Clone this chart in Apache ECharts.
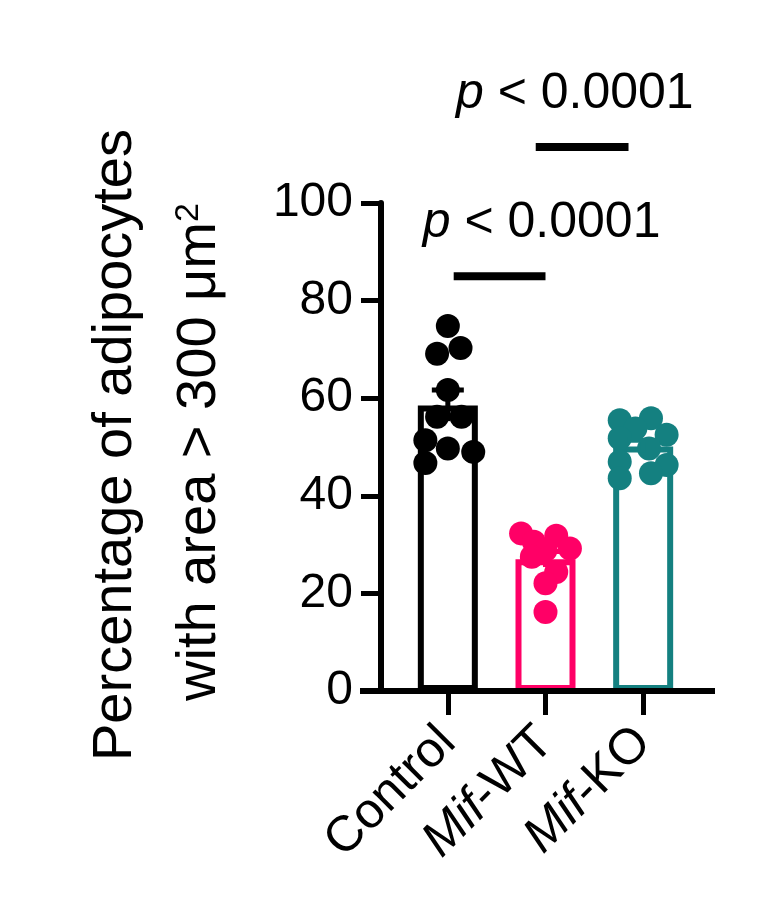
<!DOCTYPE html>
<html><head><meta charset="utf-8">
<script src="https://cdn.jsdelivr.net/npm/echarts@6/dist/echarts.min.js"></script>
<style>html,body{margin:0;padding:0;background:#fff}#c{width:772px;height:919px}</style>
</head><body><div id="c"></div>
<script>
const categories = ['Control', 'Mif-WT', 'Mif-KO'];
const colors = ['#000000', '#FF0066', '#148080'];
const means = [58.5, 27.0, 50.1];
const sems = [3.2, 1.6, 1.3];
const controlPts = [74.8, 69.1, 70.3, 61.7, 56.2, 56.2, 51.4, 49.7, 49.0, 46.7];
const controlJit = [0, -0.11, 0.13, 0, -0.11, 0.14, -0.23, 0, 0.26, -0.23];
const wtPts = [32.3, 31.8, 30.6, 29.2, 28.9, 27.5, 24.4, 22.1, 16.2];
const wtJit = [-0.25, 0.11, -0.12, 0.25, 0, -0.14, 0.11, 0, 0];
const koPts = [55.5, 55.9, 53.8, 52.5, 51.8, 49.7, 47.0, 46.3, 44.6, 43.6];
const koJit = [-0.24, 0.08, -0.08, 0.24, -0.24, 0.06, -0.24, 0.24, 0.08, -0.24];
const yTicks = [0, 20, 40, 60, 80, 100];
const comparisons = [ {from: 0.06, to: 1, y: 85, textAt: 0.96, label: 'p < 0.0001'}, {from: 0.9, to: 1.85, y: 111.5, textAt: 1.3, label: 'p < 0.0001'} ];

const ptsAll = [controlPts, wtPts, koPts], jitAll = [controlJit, wtJit, koJit];
const dotData = [];
ptsAll.forEach((arr, i) => arr.forEach((v, j) => dotData.push([i, v, jitAll[i][j]])));

const chart = echarts.init(document.getElementById('c'));
const F = 'Arial, "Liberation Sans", Helvetica, sans-serif';
chart.setOption({
  animation: false,
  grid: {left: 399, right: 80, top: 203, bottom: 919 - 691},
  xAxis: {type: 'category', data: categories, boundaryGap: true,
    axisLine: {show: false},
    axisTick: {show: true, alignWithLabel: true, length: 24, lineStyle: {color: '#000', width: 5}},
    axisLabel: {rotate: 45, margin: 44, fontSize: 50, fontFamily: F, color: '#000',
      formatter: v => v.startsWith('Mif-') ? '{i|Mif}{n|-' + v.slice(4) + '}' : '{n|' + v + '}',
      rich: {i: {fontStyle: 'italic', fontSize: 50, fontFamily: F, color: '#000'}, n: {fontSize: 50, fontFamily: F, color: '#000'}}}},
  yAxis: {type: 'value', min: 0, max: 100, interval: 20, offset: 18,
    splitLine: {show: false},
    axisLine: {show: true, lineStyle: {color: '#000', width: 6}},
    axisTick: {show: true, length: 20, lineStyle: {color: '#000', width: 5}},
    axisLabel: {fontSize: 48, fontFamily: F, color: '#000', margin: 28,
      formatter: v => yTicks.includes(v) ? String(v) : ''}},
  series: [
    {type: 'bar', barWidth: 60, z: 2,
     data: means.map((m, i) => ({value: m, itemStyle: {color: '#fff', borderColor: colors[i], borderWidth: 6}}))},
    {type: 'custom', z: 3, data: dotData, renderItem: (p, api) => {
      const i = api.value(0), v = api.value(1), jit = api.value(2);
      const c = api.coord([i, v]); const bw = api.size([1, 0])[0];
      return {type: 'circle', shape: {cx: c[0] + jit * bw, cy: c[1], r: 12}, style: {fill: colors[i]}};
    }},
    {type: 'custom', z: 4, data: means.map((m, i) => [i, m, sems[i]]), renderItem: (p, api) => {
      const i = api.value(0), m = api.value(1), s = api.value(2);
      const top = api.coord([i, m + s]), bot = api.coord([i, m - s]);
      const st = {stroke: colors[i], lineWidth: 5};
      return {type: 'group', children: [
        {type: 'line', shape: {x1: top[0], y1: top[1], x2: bot[0], y2: bot[1]}, style: st},
        {type: 'line', shape: {x1: top[0] - 16, y1: top[1], x2: top[0] + 16, y2: top[1]}, style: st}]};
    }}
  ]
});

function drawExtras() {
  const g = [];
  const y0 = chart.convertToPixel({yAxisIndex: 0}, 0);
  g.push({type: 'line', shape: {x1: 360, y1: y0, x2: 715, y2: y0}, style: {stroke: '#000', lineWidth: 6}, z: 10});
  comparisons.forEach(cmp => {
    const x1 = chart.convertToPixel({xAxisIndex: 0}, 0), x2 = chart.convertToPixel({xAxisIndex: 0}, 1);
    const bw = x2 - x1;
    const a = x1 + cmp.from * bw, b = x1 + cmp.to * bw;
    const y = chart.convertToPixel({yAxisIndex: 0}, cmp.y);
    g.push({type: 'line', shape: {x1: a, y1: y, x2: b, y2: y}, style: {stroke: '#000', lineWidth: 8}, z: 10});
    g.push({type: 'text', x: x1 + cmp.textAt * bw, y: y - 28, z: 10,
      style: {text: '{i|p} < 0.0001', align: 'center', verticalAlign: 'bottom', fontSize: 50, fontFamily: F, fill: '#000',
        rich: {i: {fontStyle: 'italic', fontSize: 50, fontFamily: F}}}});
  });
  g.push({type: 'text', x: 116, y: 445, rotation: Math.PI / 2, z: 10,
    style: {text: 'Percentage of adipocytes', align: 'center', verticalAlign: 'middle', fontSize: 56, fontFamily: F, fill: '#000'}});
  g.push({type: 'text', x: 200, y: 452, rotation: Math.PI / 2, z: 10,
    style: {text: 'with area > 300 μm{s|2}', align: 'center', verticalAlign: 'middle', fontSize: 56, fontFamily: F, fill: '#000',
      rich: {s: {fontSize: 34, fontFamily: F, verticalAlign: 'top', lineHeight: 56, padding: [0,0,28,0]}}}});
  chart.setOption({graphic: g});
}
drawExtras();
</script></body></html>
